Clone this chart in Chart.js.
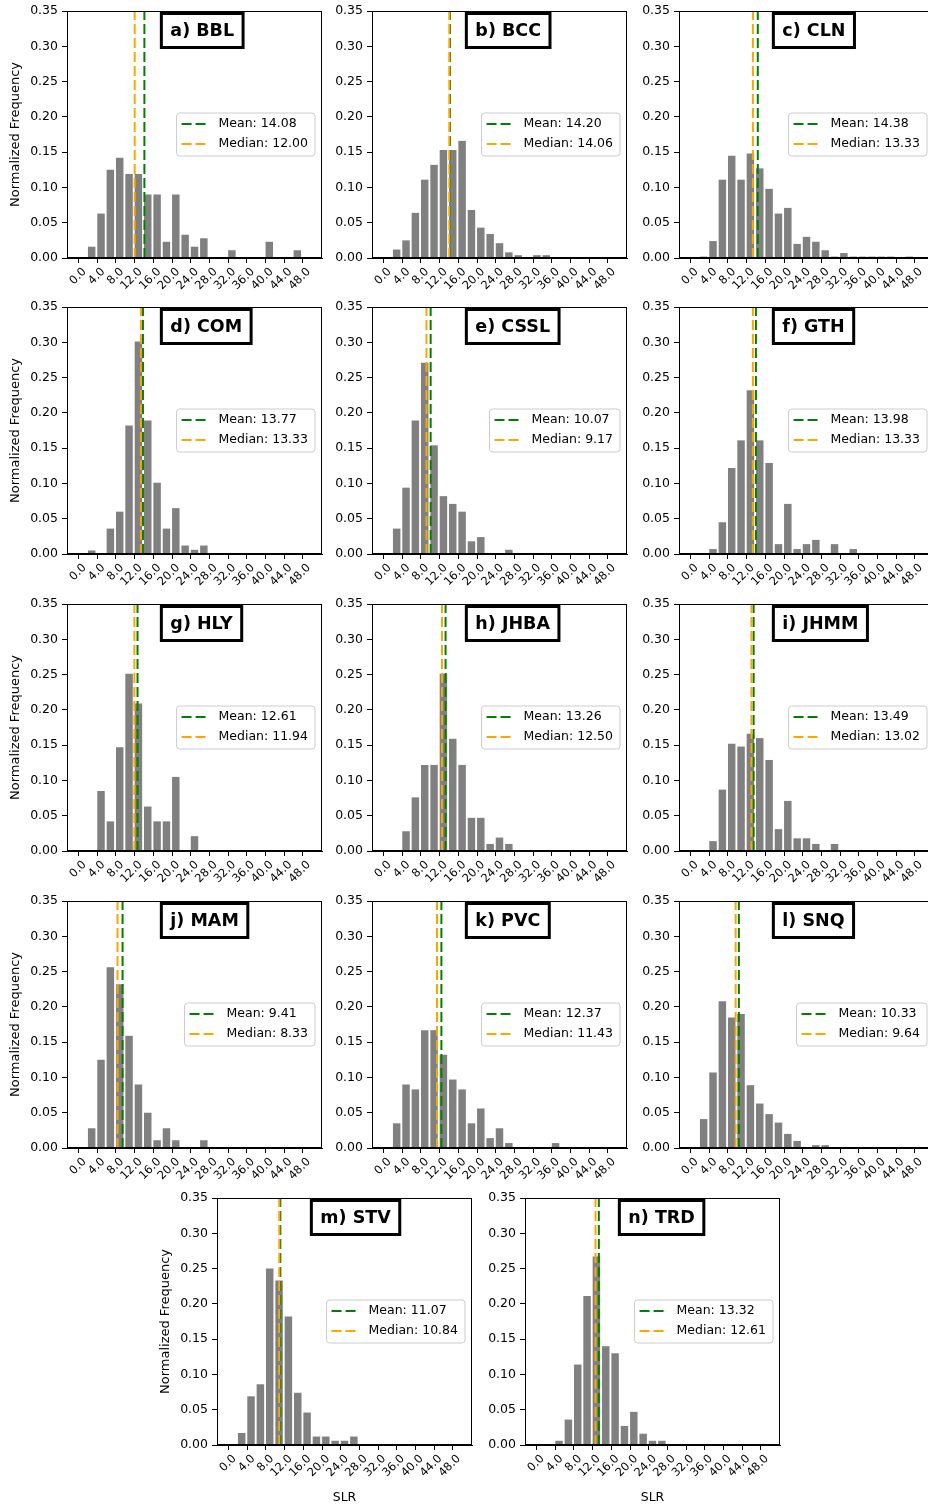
<!DOCTYPE html>
<html>
<head>
<meta charset="utf-8">
<title>SLR normalized frequency per station</title>
<script src="https://cdn.jsdelivr.net/npm/chart.js@4.4.1/dist/chart.umd.min.js"></script>
<style>
    html, body { margin: 0; padding: 0; background: #fff; }
    #figure { position: relative; width: 928px; height: 1504px; overflow: hidden; }
    .panel { position: absolute; }
</style>
</head>
<body>
<div id="figure"></div>
<script>
// Bin left edges (bin width 2), ticks
const binEdges = [0, 2, 4, 6, 8, 10, 12, 14, 16, 18, 20, 22, 24, 26, 28, 30, 32, 34, 36, 38, 40, 42, 44, 46, 48];
const xTickValues = [0, 4, 8, 12, 16, 20, 24, 28, 32, 36, 40, 44, 48];
const yTickValues = [0, 0.05, 0.10, 0.15, 0.20, 0.25, 0.30, 0.35];

// Panel titles
const stationLabels = ['a) BBL', 'b) BCC', 'c) CLN', 'd) COM', 'e) CSSL', 'f) GTH', 'g) HLY',
    'h) JHBA', 'i) JHMM', 'j) MAM', 'k) PVC', 'l) SNQ', 'm) STV', 'n) TRD'];

// Normalized frequency per bin, one array per station
const freqBBL  = [0, 0.016, 0.063, 0.125, 0.142, 0.119, 0.119, 0.090, 0.090, 0.023, 0.090, 0.033, 0.016, 0.028, 0, 0, 0.011, 0, 0, 0, 0.023, 0, 0, 0.011, 0];
const freqBCC  = [0, 0.012, 0.025, 0.064, 0.111, 0.132, 0.153, 0.153, 0.166, 0.068, 0.043, 0.034, 0.021, 0.008, 0.004, 0, 0.004, 0.004, 0, 0, 0, 0, 0, 0, 0];
const freqCLN  = [0, 0.002, 0.024, 0.111, 0.145, 0.111, 0.148, 0.127, 0.098, 0.063, 0.071, 0.020, 0.030, 0.023, 0.011, 0.002, 0.007, 0.002, 0.002, 0.002, 0.002, 0.002, 0, 0.002, 0];
const freqCOM  = [0, 0.005, 0, 0.036, 0.060, 0.182, 0.301, 0.189, 0.101, 0.036, 0.065, 0.012, 0.006, 0.012, 0, 0, 0, 0, 0, 0, 0, 0, 0, 0, 0];
const freqCSSL = [0, 0.036, 0.094, 0.189, 0.271, 0.154, 0.082, 0.071, 0.060, 0.018, 0.024, 0, 0, 0.006, 0, 0, 0, 0, 0, 0, 0, 0, 0, 0, 0];
const freqGTH  = [0, 0, 0.007, 0.045, 0.122, 0.161, 0.232, 0.161, 0.129, 0.014, 0.071, 0.007, 0.014, 0.020, 0, 0.014, 0, 0.007, 0, 0, 0, 0, 0, 0, 0];
const freqHLY  = [0, 0, 0.085, 0.042, 0.147, 0.251, 0.209, 0.063, 0.042, 0.042, 0.105, 0, 0.021, 0, 0, 0, 0, 0, 0, 0, 0, 0, 0, 0, 0];
const freqJHBA = [0, 0, 0.028, 0.076, 0.122, 0.122, 0.251, 0.159, 0.122, 0.047, 0.047, 0.010, 0.019, 0.010, 0, 0, 0, 0, 0, 0, 0, 0, 0, 0, 0];
const freqJHMM = [0, 0, 0.014, 0.087, 0.152, 0.148, 0.166, 0.160, 0.129, 0.031, 0.071, 0.018, 0.018, 0.010, 0, 0.010, 0, 0, 0, 0, 0, 0, 0, 0, 0];
const freqMAM  = [0, 0.028, 0.125, 0.256, 0.232, 0.159, 0.090, 0.050, 0.011, 0.028, 0.011, 0, 0, 0.011, 0, 0, 0, 0, 0, 0, 0, 0, 0, 0, 0];
const freqPVC  = [0, 0.035, 0.090, 0.083, 0.167, 0.167, 0.132, 0.097, 0.083, 0.035, 0.056, 0.014, 0.028, 0.007, 0, 0, 0, 0, 0.007, 0, 0, 0, 0, 0, 0];
const freqSNQ  = [0, 0.041, 0.107, 0.208, 0.185, 0.190, 0.089, 0.063, 0.048, 0.036, 0.020, 0.010, 0, 0.004, 0.004, 0, 0, 0, 0, 0, 0, 0, 0, 0, 0];
const freqSTV  = [0, 0.017, 0.069, 0.086, 0.250, 0.233, 0.182, 0.074, 0.046, 0.012, 0.012, 0.006, 0.006, 0.012, 0, 0, 0, 0, 0, 0, 0, 0, 0, 0, 0];
const freqTRD  = [0, 0, 0.006, 0.036, 0.114, 0.211, 0.267, 0.140, 0.130, 0.027, 0.047, 0.016, 0.006, 0.006, 0, 0, 0, 0, 0, 0, 0, 0, 0, 0, 0];

const meanValues   = [14.08, 14.20, 14.38, 13.77, 10.07, 13.98, 12.61, 13.26, 13.49, 9.41, 12.37, 10.33, 11.07, 13.32];
const medianValues = [12.00, 14.06, 13.33, 13.33, 9.17, 13.33, 11.94, 12.50, 13.02, 8.33, 11.43, 9.64, 10.84, 12.61];

const freqSeries = [freqBBL, freqBCC, freqCLN, freqCOM, freqCSSL, freqGTH, freqHLY,
    freqJHBA, freqJHMM, freqMAM, freqPVC, freqSNQ, freqSTV, freqTRD];

// Where each plot area sits on the page (left/top of the axes box)
const panelSlots = [
    [67, 11], [372, 11], [679, 11],
    [67, 307], [372, 307], [679, 307],
    [67, 604], [372, 604], [679, 604],
    [67, 901], [372, 901], [679, 901],
    [217, 1198], [525, 1198]
];
const PLOT_W = 255;
const PLOT_H = 247;
const Y_AXIS_W = 67;
const PAD_TOP = 11;
const PAD_RIGHT = 8;

Chart.defaults.font.family = '"DejaVu Sans", "Liberation Sans", sans-serif';
Chart.defaults.color = '#000';

// Frame, title box and legend drawn on top of the bars
const panelDecor = {
    id: 'panelDecor',
    afterDatasetsDraw(chart, args, opts) {
        const { ctx, chartArea: area } = chart;
        ctx.save();

        // Axes frame (all four spines)
        ctx.strokeStyle = '#000';
        ctx.lineWidth = 1;
        ctx.strokeRect(area.left + 0.5, area.top + 0.5, area.width - 1, area.height - 1);

        // Boxed station title
        ctx.font = 'bold 17.5px "DejaVu Sans", sans-serif';
        const tw = ctx.measureText(opts.title).width;
        const bw = tw + 18;
        const bh = 34;
        const bx = area.left + 0.37 * area.width;
        const by = area.top + 2.5;
        ctx.fillStyle = '#fff';
        ctx.fillRect(bx, by, bw, bh);
        ctx.lineWidth = 3;
        ctx.strokeRect(bx, by, bw, bh);
        ctx.fillStyle = '#000';
        ctx.textAlign = 'left';
        ctx.textBaseline = 'middle';
        ctx.fillText(opts.title, bx + 9, by + bh / 2 + 1);

        // Legend (dashed handles) at center right
        const items = chart.data.datasets.filter(ds => ds.type === 'line');
        ctx.font = '12.5px "DejaVu Sans", sans-serif';
        const textW = Math.max(...items.map(ds => ctx.measureText(ds.label).width));
        const lw = 49 + textW;
        const lh = 43;
        const lx = area.right - 7 - lw;
        const ly = (area.top + area.bottom) / 2 - lh / 2;
        const r = 3;
        ctx.beginPath();
        ctx.moveTo(lx + r, ly);
        ctx.arcTo(lx + lw, ly, lx + lw, ly + lh, r);
        ctx.arcTo(lx + lw, ly + lh, lx, ly + lh, r);
        ctx.arcTo(lx, ly + lh, lx, ly, r);
        ctx.arcTo(lx, ly, lx + lw, ly, r);
        ctx.closePath();
        ctx.fillStyle = 'rgba(255,255,255,0.8)';
        ctx.fill();
        ctx.lineWidth = 1;
        ctx.strokeStyle = '#cccccc';
        ctx.stroke();

        items.forEach((ds, i) => {
            const rowY = ly + 11 + i * 20;
            ctx.beginPath();
            ctx.setLineDash([10, 4]);
            ctx.strokeStyle = ds.borderColor;
            ctx.lineWidth = 2;
            ctx.moveTo(lx + 5, rowY);
            ctx.lineTo(lx + 29, rowY);
            ctx.stroke();
            ctx.setLineDash([]);
            ctx.fillStyle = '#000';
            ctx.fillText(ds.label, lx + 42, rowY);
        });

        ctx.restore();
    }
};

const HistogramFigure = {
    init() {
        const figure = document.getElementById('figure');
        freqSeries.forEach((freq, i) => this.buildPanel(figure, i, freq));
    },

    buildPanel(figure, i, freq) {
        const [plotLeft, plotTop] = panelSlots[i];
        const showYTitle = (i < 12 && i % 3 === 0) || i === 12;
        const showXTitle = i >= 12;
        const xAxisH = showXTitle ? 62 : 50;

        const wrap = document.createElement('div');
        wrap.className = 'panel';
        wrap.style.left = (plotLeft - Y_AXIS_W) + 'px';
        wrap.style.top = (plotTop - PAD_TOP) + 'px';
        const canvas = document.createElement('canvas');
        canvas.width = Y_AXIS_W + PLOT_W + PAD_RIGHT;
        canvas.height = PAD_TOP + PLOT_H + xAxisH;
        wrap.appendChild(canvas);
        figure.appendChild(wrap);

        const mean = meanValues[i];
        const median = medianValues[i];

        new Chart(canvas, {
            data: {
                datasets: [
                    {
                        type: 'line',
                        label: `Mean: ${mean.toFixed(2)}`,
                        data: [{ x: mean, y: 0 }, { x: mean, y: 0.35 }],
                        borderColor: 'green',
                        borderWidth: 2,
                        borderDash: [10, 4],
                        pointRadius: 0,
                        fill: false,
                        order: 2
                    },
                    {
                        type: 'line',
                        label: `Median: ${median.toFixed(2)}`,
                        data: [{ x: median, y: 0 }, { x: median, y: 0.35 }],
                        borderColor: 'orange',
                        borderWidth: 2,
                        borderDash: [10, 4],
                        pointRadius: 0,
                        fill: false,
                        order: 1
                    },
                    {
                        type: 'bar',
                        label: 'SLR',
                        // bars are 1.6 wide and start at the bin's left edge
                        data: freq.map((f, k) => ({ x: binEdges[k] + 0.8, y: f })),
                        backgroundColor: '#808080',
                        borderWidth: 0,
                        barPercentage: 0.8,
                        categoryPercentage: 1.0,
                        order: 3
                    }
                ]
            },
            options: {
                responsive: false,
                animation: false,
                events: [],
                layout: { padding: { top: PAD_TOP, right: PAD_RIGHT, left: 0, bottom: 0 } },
                plugins: {
                    legend: { display: false },
                    tooltip: { enabled: false },
                    panelDecor: { title: stationLabels[i] }
                },
                scales: {
                    x: {
                        type: 'linear',
                        min: -2.48,
                        max: 52.08,
                        offset: false,
                        grid: { offset: false, drawOnChartArea: false, drawTicks: true, tickLength: 5, color: '#000' },
                        border: { display: true, color: '#000' },
                        ticks: {
                            autoSkip: false,
                            minRotation: 45,
                            maxRotation: 45,
                            padding: 2,
                            labelOffset: 6,
                            font: { size: 11.5 },
                            callback: v => Number(v).toFixed(1)
                        },
                        afterBuildTicks: s => { s.ticks = xTickValues.map(v => ({ value: v })); },
                        afterFit: s => { s.height = xAxisH; s.paddingLeft = 0; s.paddingRight = 0; },
                        title: {
                            display: showXTitle,
                            text: 'SLR',
                            font: { size: 12.5 },
                            padding: { top: 0, bottom: 2 }
                        }
                    },
                    y: {
                        min: 0,
                        max: 0.35,
                        grid: { drawOnChartArea: false, drawTicks: true, tickLength: 5, color: '#000' },
                        border: { display: true, color: '#000' },
                        ticks: {
                            padding: 4,
                            font: { size: 12.5 },
                            callback: v => Number(v).toFixed(2)
                        },
                        afterBuildTicks: s => { s.ticks = yTickValues.map(v => ({ value: v })); },
                        afterFit: s => { s.width = Y_AXIS_W; s.paddingTop = 0; s.paddingBottom = 0; },
                        title: {
                            display: showYTitle,
                            text: 'Normalized Frequency',
                            font: { size: 13 },
                            padding: { top: 8, bottom: 0 }
                        }
                    }
                }
            },
            plugins: [panelDecor]
        });
    }
};

document.addEventListener('DOMContentLoaded', () => {
    HistogramFigure.init();
});
</script>
</body>
</html>
